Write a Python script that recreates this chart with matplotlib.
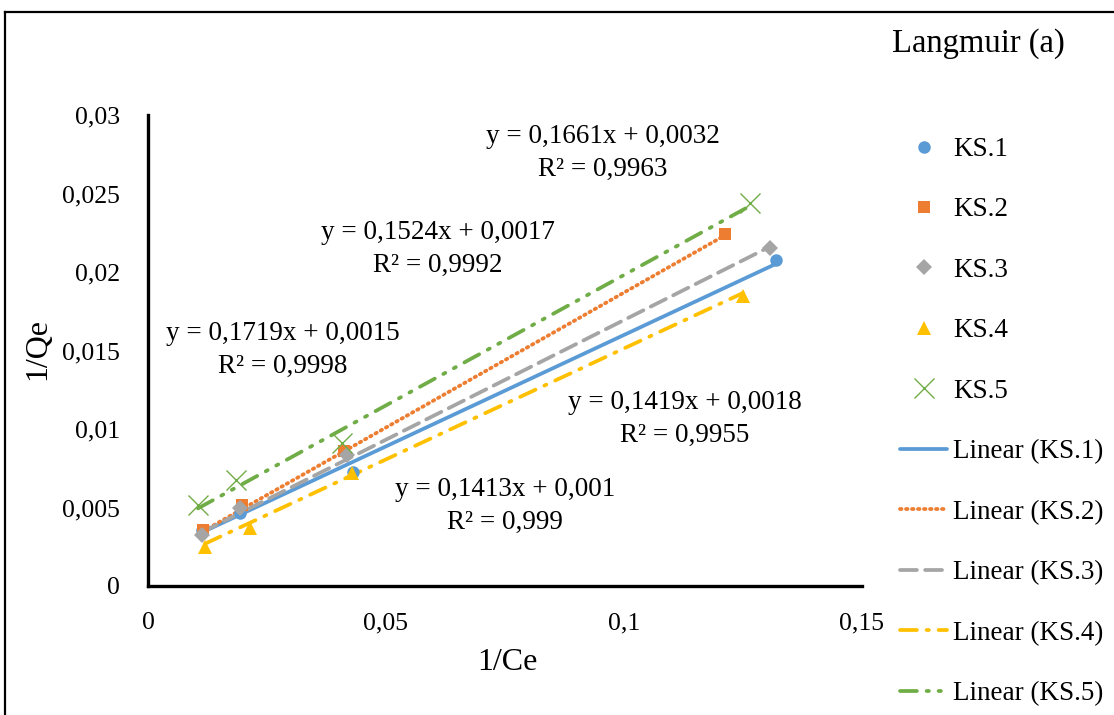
import matplotlib
matplotlib.use("Agg")
import matplotlib.pyplot as plt
import numpy as np
from matplotlib.lines import Line2D

# ---------------- data ----------------
series_names = ["KS.1", "KS.2", "KS.3", "KS.4", "KS.5"]
ks1_x = [0.0113, 0.0193, 0.0431, 0.1319]
ks1_y = [0.00357, 0.00465, 0.00726, 0.02076]
ks2_x = [0.0116, 0.0198, 0.0412, 0.1212]
ks2_y = [0.00357, 0.00516, 0.00860, 0.02242]
ks3_x = [0.0113, 0.0193, 0.0418, 0.1307]
ks3_y = [0.00325, 0.00497, 0.00834, 0.02153]
ks4_x = [0.0120, 0.0214, 0.0429, 0.1250]
ks4_y = [0.00248, 0.00369, 0.00720, 0.01847]
ks5_x = [0.0105, 0.0185, 0.0408, 0.1265]
ks5_y = [0.00516, 0.00675, 0.00911, 0.02440]

# trendline coefficients as printed on the chart
slopes = [0.1419, 0.1719, 0.1524, 0.1413, 0.1661]
intercepts = [0.0018, 0.0015, 0.0017, 0.001, 0.0032]
r2_values = [0.9955, 0.9998, 0.9992, 0.999, 0.9963]

x_ticks = [0, 0.05, 0.1, 0.15]
x_tick_labels = ["0", "0,05", "0,1", "0,15"]
y_ticks = [0, 0.005, 0.01, 0.015, 0.02, 0.025, 0.03]
y_tick_labels = ["0", "0,005", "0,01", "0,015", "0,02", "0,025", "0,03"]

title_text = "Langmuir (a)"
x_label = "1/Ce"
y_label = "1/Qe"

# ---------------- style ----------------
plt.rcParams['font.family'] = ['Liberation Serif', 'DejaVu Serif']
W, H = 1114, 715
fig = plt.figure(figsize=(W / 100, H / 100), dpi=100)

def fx(px):
    return px / W

def fy(py):
    return 1 - py / H

ax = fig.add_axes([fx(148), fy(586), fx(862) - fx(148), fy(115) - fy(586)])

colors = ["#5B9BD5", "#ED7D31", "#A5A5A5", "#FFC000", "#70AD47"]
markers = ["o", "s", "D", "^", "x"]
msizes = [9, 9, 8, 10, 14]
linestyles = ["-", (0, (0.4, 1.2)), (0, (4.5, 2.2)), (0, (4.5, 2.6, 0.6, 2.6)),
              (0, (4.5, 2.6, 0.6, 2.6, 0.6, 2.6))]

xs = [ks1_x, ks2_x, ks3_x, ks4_x, ks5_x]
ys = [ks1_y, ks2_y, ks3_y, ks4_y, ks5_y]

scatter_handles = []
line_handles = []
for i in range(5):
    x = np.array(xs[i])
    xl = np.array([x.min(), x.max()])
    yl = slopes[i] * xl + intercepts[i]
    ln, = ax.plot(xl, yl, color=colors[i], lw=2.7, ls=linestyles[i],
                  dash_capstyle='round', solid_capstyle='round', zorder=2)
    line_handles.append(ln)
for i in range(5):
    if markers[i] == "x":
        sc, = ax.plot(xs[i], ys[i], ls='none', marker='x', ms=msizes[i],
                      mew=1.0, color=colors[i], zorder=3)
    else:
        sc, = ax.plot(xs[i], ys[i], ls='none', marker=markers[i], ms=msizes[i],
                      mew=0, color=colors[i], zorder=3)
    scatter_handles.append(sc)

ax.set_xlim(0, 0.15)
ax.set_ylim(0, 0.03)
ax.set_xticks(x_ticks)
ax.set_xticklabels(x_tick_labels)
ax.set_yticks(y_ticks)
ax.set_yticklabels(y_tick_labels)
ax.tick_params(axis='both', length=0, labelsize=18.5)
ax.tick_params(axis='x', pad=19)
ax.tick_params(axis='y', pad=20)
for s in ["top", "right"]:
    ax.spines[s].set_visible(False)
for s in ["left", "bottom"]:
    ax.spines[s].set_linewidth(2.4)
    ax.spines[s].set_capstyle('projecting')

fig.text(fx(507), fy(663), x_label, ha='center', va='center', fontsize=23)
fig.text(fx(38), fy(349), y_label, ha='center', va='center', fontsize=23, rotation=90)
fig.text(fx(978), fy(44), title_text, ha='center', va='center', fontsize=23.5)

# equation labels (series order KS.1..KS.5)
eq_pos = [(685, 419), (283, 350), (438, 249), (505, 506), (603, 153)]

def fmt(v):
    return ("%g" % v).replace(".", ",")

for i in range(5):
    txt = "y = %sx + %s\nR² = %s" % (fmt(slopes[i]), fmt(intercepts[i]), fmt(r2_values[i]))
    fig.text(fx(eq_pos[i][0]), fy(eq_pos[i][1]), txt, ha='center', va='center',
             multialignment='center', fontsize=19.5, linespacing=1.4)

labels = series_names + ["Linear (%s)" % n for n in series_names]
fig.legend(scatter_handles + line_handles, labels, loc='upper left',
           bbox_to_anchor=(fx(900), fy(137)), frameon=False, fontsize=19.5,
           handlelength=1.75, handletextpad=0.2, labelspacing=1.31,
           borderpad=0, borderaxespad=0)

# outer frame (left and top edges visible)
fig.add_artist(Line2D([fx(5), fx(5)], [fy(12), 0], color='black', lw=1.6))
fig.add_artist(Line2D([fx(5), 1], [fy(12), fy(12)], color='black', lw=1.6))

fig.savefig("out.png", dpi=100)
